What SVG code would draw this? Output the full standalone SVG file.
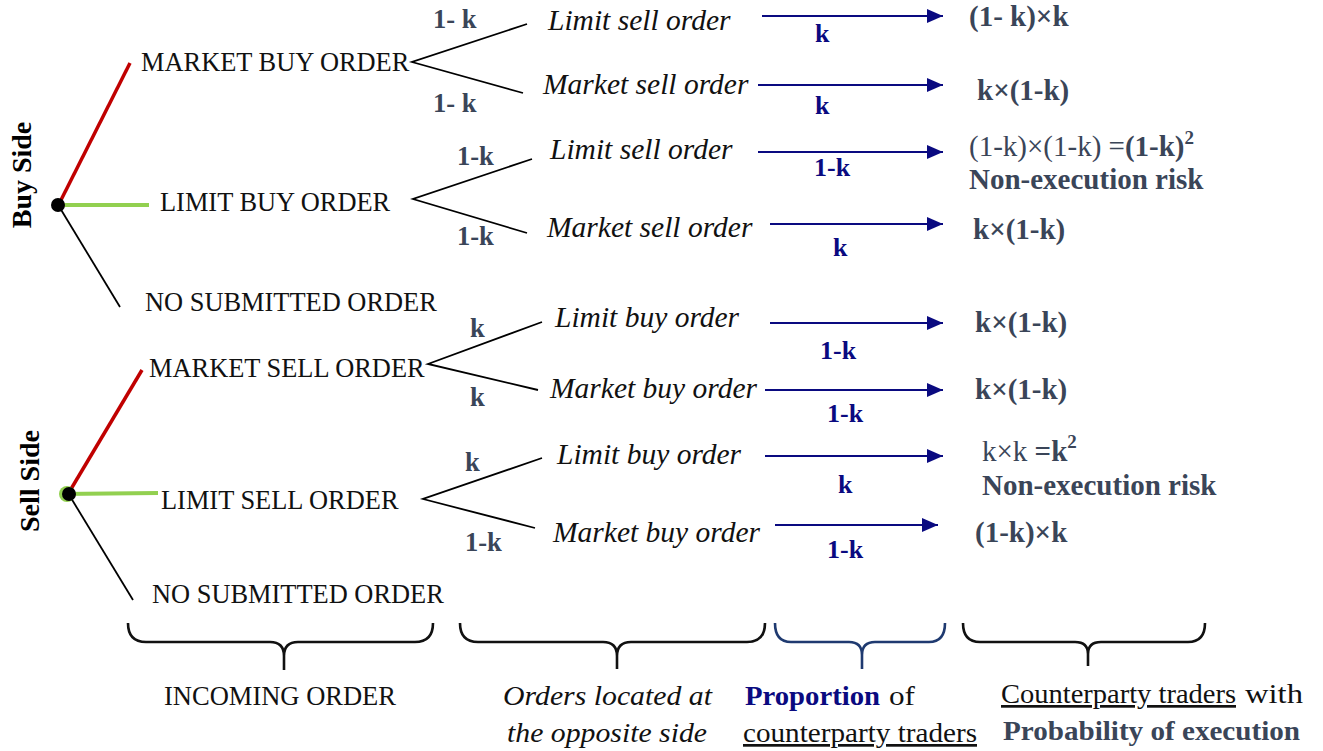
<svg xmlns="http://www.w3.org/2000/svg" width="1323" height="751" viewBox="0 0 1323 751">
<style>
text{font-family:"Liberation Serif","Times New Roman",serif;}
.cap{font-size:26.4px;fill:#111;}
.side{font-size:28px;font-weight:bold;fill:#000;}
.it{font-size:29.5px;font-style:italic;fill:#111;}
.pl{font-size:26.5px;font-weight:bold;fill:#3a4558;}
.bl{font-size:26px;font-weight:bold;fill:#0a0a80;}
.res{font-size:29px;font-weight:bold;fill:#3a4558;}
.reg{font-weight:normal;}
.br{fill:none;stroke:#000;stroke-width:1.8;}
.arr{stroke:#0a0a80;stroke-width:2;marker-end:url(#ah);}
.brace{fill:none;stroke:#111;stroke-width:2.6;}
.bot{font-size:27px;fill:#111;}
</style>
<defs>
<marker id="ah" markerUnits="userSpaceOnUse" markerWidth="16" markerHeight="14" refX="16" refY="7" orient="auto">
<path d="M0,0 L16,7 L0,14 z" fill="#0a0a80"/>
</marker>
</defs>

<g id="connectors">
<!-- buy side tree -->
<line x1="61" y1="200" x2="130" y2="63" stroke="#c00000" stroke-width="3.5"/>
<line x1="64" y1="205" x2="149" y2="205" stroke="#92d050" stroke-width="4"/>
<line x1="60" y1="208" x2="120" y2="307" stroke="#000" stroke-width="1.8"/>
<!-- sell side tree -->
<line x1="71" y1="489" x2="142" y2="370" stroke="#c00000" stroke-width="3.5"/>
<line x1="60" y1="494" x2="158" y2="493" stroke="#92d050" stroke-width="4"/>
<line x1="71" y1="498" x2="133" y2="600" stroke="#000" stroke-width="1.8"/>
<!-- branches -->
<polyline class="br" points="527,24 412,62 523,93"/>
<polyline class="br" points="532,159 413,199 527,233"/>
<polyline class="br" points="542,322 428,364 538,390"/>
<polyline class="br" points="542,458 423,499 535,528"/>
<!-- branch probabilities -->
<text class="pl" x="433" y="28">1- k</text>
<text class="pl" x="433" y="112">1- k</text>
<text class="pl" x="457" y="165">1-k</text>
<text class="pl" x="457" y="245">1-k</text>
<text class="pl" x="470" y="337">k</text>
<text class="pl" x="470" y="406">k</text>
<text class="pl" x="465" y="471">k</text>
<text class="pl" x="465" y="551">1-k</text>
<!-- arrows -->
<line class="arr" x1="762" y1="16" x2="943" y2="16"/>
<line class="arr" x1="758" y1="85" x2="943" y2="85"/>
<line class="arr" x1="758" y1="152" x2="943" y2="152"/>
<line class="arr" x1="770" y1="224" x2="943" y2="224"/>
<line class="arr" x1="770" y1="323" x2="943" y2="323"/>
<line class="arr" x1="765" y1="390" x2="943" y2="390"/>
<line class="arr" x1="765" y1="456" x2="943" y2="456"/>
<line class="arr" x1="775" y1="525" x2="938" y2="525"/>
<text class="bl" x="815" y="42">k</text>
<text class="bl" x="815" y="114">k</text>
<text class="bl" x="814" y="176">1-k</text>
<text class="bl" x="833" y="256">k</text>
<text class="bl" x="820" y="359">1-k</text>
<text class="bl" x="827" y="422">1-k</text>
<text class="bl" x="838" y="493">k</text>
<text class="bl" x="827" y="558">1-k</text>
</g>

<g id="buy-root">
<circle cx="58" cy="205" r="7" fill="#000"/>
<text class="side" transform="translate(31,175) rotate(-90)" text-anchor="middle">Buy Side</text>
</g>
<g id="sell-root">
<circle cx="67" cy="494" r="8" fill="#92d050"/>
<circle cx="69" cy="494" r="7" fill="#000"/>
<text class="side" transform="translate(39,481) rotate(-90)" text-anchor="middle">Sell Side</text>
</g>

<g id="market-buy-order"><text class="cap" x="141" y="71">MARKET BUY ORDER</text></g>
<g id="limit-buy-order"><text class="cap" x="160" y="211">LIMIT BUY ORDER</text></g>
<g id="no-order-buy"><text class="cap" x="145" y="311">NO SUBMITTED ORDER</text></g>
<g id="market-sell-order"><text class="cap" x="149" y="377">MARKET SELL ORDER</text></g>
<g id="limit-sell-order"><text class="cap" x="161" y="509">LIMIT SELL ORDER</text></g>
<g id="no-order-sell"><text class="cap" x="152" y="603">NO SUBMITTED ORDER</text></g>

<g id="opp-1"><text class="it" x="548" y="30">Limit sell order</text></g>
<g id="opp-2"><text class="it" x="543" y="94">Market sell order</text></g>
<g id="opp-3"><text class="it" x="550" y="159">Limit sell order</text></g>
<g id="opp-4"><text class="it" x="547" y="237">Market sell order</text></g>
<g id="opp-5"><text class="it" x="555" y="327">Limit buy order</text></g>
<g id="opp-6"><text class="it" x="550" y="398">Market buy order</text></g>
<g id="opp-7"><text class="it" x="557" y="464">Limit buy order</text></g>
<g id="opp-8"><text class="it" x="553" y="542">Market buy order</text></g>

<g id="res-1"><text class="res" x="969" y="26">(1- k)×k</text></g>
<g id="res-2"><text class="res" x="977" y="100">k×(1-k)</text></g>
<g id="res-3">
<text class="res" x="969" y="156"><tspan class="reg">(1-k)×(1-k) =</tspan>(1-k)<tspan font-size="19" dy="-12">2</tspan></text>
<text class="res" x="969" y="189">Non-execution risk</text>
</g>
<g id="res-4"><text class="res" x="973" y="239">k×(1-k)</text></g>
<g id="res-5"><text class="res" x="975" y="332">k×(1-k)</text></g>
<g id="res-6"><text class="res" x="975" y="399">k×(1-k)</text></g>
<g id="res-7">
<text class="res" x="982" y="461"><tspan class="reg">k×k </tspan>=k<tspan font-size="19" dy="-13">2</tspan></text>
<text class="res" x="982" y="495">Non-execution risk</text>
</g>
<g id="res-8"><text class="res" x="975" y="542">(1-k)×k</text></g>

<g id="legend">
<path class="brace" d="M128,623 Q128,642 146,642 L270,642 Q284,642 284,656 L284,670 M284,656 Q284,642 298,642 L415,642 Q433,642 433,623"/>
<path class="brace" d="M460,623 Q460,642 478,642 L603,642 Q617,642 617,656 L617,669 M617,656 Q617,642 631,642 L747,642 Q765,642 765,623"/>
<path class="brace" d="M775,623 Q775,642 791,642 L849,642 Q862,642 862,655 L862,669 M862,655 Q862,642 875,642 L929,642 Q945,642 945,623" style="stroke:#1f3a70"/>
<path class="brace" d="M963,623 Q963,642 980,642 L1075,642 Q1088,642 1088,654 L1088,666 M1088,654 Q1088,642 1101,642 L1188,642 Q1205,642 1205,623"/>
<text class="bot" x="164" y="705" textLength="232" lengthAdjust="spacingAndGlyphs">INCOMING ORDER</text>
<text class="bot" x="503" y="705" font-style="italic" textLength="209" lengthAdjust="spacingAndGlyphs">Orders located at</text>
<text class="bot" x="507" y="742" font-style="italic" textLength="200" lengthAdjust="spacingAndGlyphs">the opposite side</text>
<text class="bot" x="745" y="705" font-weight="bold" style="fill:#0a0a80" textLength="135" lengthAdjust="spacingAndGlyphs">Proportion</text>
<text class="bot" x="889" y="705" textLength="26" lengthAdjust="spacingAndGlyphs">of</text>
<text class="bot" x="743" y="742" text-decoration="underline" textLength="234" lengthAdjust="spacingAndGlyphs">counterparty traders</text>
<text class="bot" x="1001" y="703" text-decoration="underline" textLength="235" lengthAdjust="spacingAndGlyphs">Counterparty traders</text>
<text class="bot" x="1245" y="703" textLength="58" lengthAdjust="spacingAndGlyphs">with</text>
<text class="bot" x="1003" y="740" font-weight="bold" style="fill:#3a4558" textLength="297" lengthAdjust="spacingAndGlyphs">Probability of execution</text>
</g>
</svg>
